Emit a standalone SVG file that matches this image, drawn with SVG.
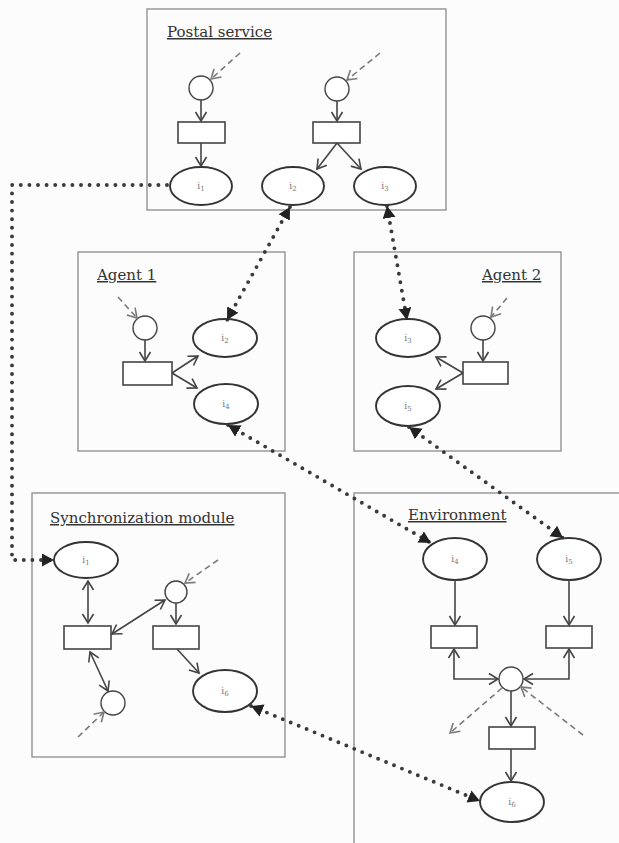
<svg xmlns="http://www.w3.org/2000/svg" width="619" height="843" viewBox="0 0 619 843">
  <style>
    .module { fill: none; stroke: #8a8a8a; stroke-width: 1.3; }
    .title { font-family: "DejaVu Serif", "Liberation Serif", serif; font-size: 15px; fill: #333; text-decoration: underline; }
    .place { fill: #fff; stroke: #333; stroke-width: 1.9; }
    .cond { fill: #fff; stroke: #444; stroke-width: 1.4; }
    .trans { fill: #fff; stroke: #444; stroke-width: 1.6; }
    .lbl { font-family: "DejaVu Serif", "Liberation Serif", serif; font-size: 9px; fill: #777; text-anchor: middle; }
    .sub { font-size: 7px; }
    .arc { fill: none; stroke: #444; stroke-width: 1.6; marker-end: url(#open); }
    .bi { fill: none; stroke: #444; stroke-width: 1.6; marker-start: url(#open); marker-end: url(#open); }
    .ext { fill: none; stroke: #7a7a7a; stroke-width: 1.6; stroke-dasharray: 6 4; marker-end: url(#openLight); }
    .link { fill: none; stroke: #3a3a3a; stroke-width: 3.9; stroke-linecap: round; stroke-dasharray: 0 8.6; }
    .link2 { marker-start: url(#tri); marker-end: url(#tri); }
    .link1 { marker-end: url(#tri); }
  </style>
  <defs>
    <marker id="open" markerUnits="userSpaceOnUse" markerWidth="14" markerHeight="14" refX="10" refY="7" orient="auto-start-reverse">
      <path d="M1,1.5 L10,7 L1,12.5" fill="none" stroke="#444" stroke-width="1.6"/>
    </marker>
    <marker id="openLight" markerUnits="userSpaceOnUse" markerWidth="14" markerHeight="14" refX="10" refY="7" orient="auto-start-reverse">
      <path d="M1,1.5 L10,7 L1,12.5" fill="none" stroke="#7a7a7a" stroke-width="1.6"/>
    </marker>
    <marker id="tri" markerUnits="userSpaceOnUse" markerWidth="16" markerHeight="16" refX="12" refY="6.5" orient="auto-start-reverse">
      <path d="M0,0 L12,6.5 L0,13 Z" fill="#222"/>
    </marker>
  </defs>

  <rect width="619" height="843" fill="#fcfcfc"/>

  <!-- Postal service -->
  <g id="postal-service">
    <rect class="module" x="147" y="9" width="299" height="201"/>
    <text class="title" x="167" y="37">Postal service</text>
    <circle class="cond" cx="201" cy="88" r="12"/>
    <rect class="trans" x="178" y="122" width="47" height="21"/>
    <circle class="cond" cx="337" cy="89" r="12"/>
    <rect class="trans" x="313" y="122" width="47" height="21"/>
    <g id="postal-i1"><ellipse class="place" cx="201" cy="186" rx="31" ry="19"/><text class="lbl" x="201" y="189">i<tspan class="sub" dy="2">1</tspan></text></g>
    <g id="postal-i2"><ellipse class="place" cx="293" cy="186" rx="31" ry="19"/><text class="lbl" x="293" y="189">i<tspan class="sub" dy="2">2</tspan></text></g>
    <g id="postal-i3"><ellipse class="place" cx="385" cy="186" rx="31" ry="19"/><text class="lbl" x="385" y="189">i<tspan class="sub" dy="2">3</tspan></text></g>
    <path class="ext" d="M240,53 L211,79"/>
    <path class="ext" d="M380,53 L347,80"/>
    <path class="arc" d="M201,100 V121"/>
    <path class="arc" d="M201,143 V166"/>
    <path class="arc" d="M337,101 V121"/>
    <path class="arc" d="M337,143 L317,169"/>
    <path class="arc" d="M337,143 L361,169"/>
  </g>

  <!-- Agent 1 -->
  <g id="agent-1">
    <rect class="module" x="78" y="252" width="207" height="199"/>
    <text class="title" x="97" y="280">Agent 1</text>
    <circle class="cond" cx="145" cy="328" r="12"/>
    <rect class="trans" x="123" y="362" width="49" height="23"/>
    <g id="agent1-i2"><ellipse class="place" cx="225" cy="338" rx="32" ry="19"/><text class="lbl" x="225" y="341">i<tspan class="sub" dy="2">2</tspan></text></g>
    <g id="agent1-i4"><ellipse class="place" cx="226" cy="404" rx="32" ry="20"/><text class="lbl" x="226" y="407">i<tspan class="sub" dy="2">4</tspan></text></g>
    <path class="ext" d="M118,297 L137,318"/>
    <path class="arc" d="M145,340 V361"/>
    <path class="arc" d="M172,373 L198,356"/>
    <path class="arc" d="M172,373 L197,388"/>
  </g>

  <!-- Agent 2 -->
  <g id="agent-2">
    <rect class="module" x="354" y="252" width="207" height="199"/>
    <text class="title" x="482" y="280">Agent 2</text>
    <circle class="cond" cx="483" cy="328" r="12"/>
    <rect class="trans" x="463" y="362" width="45" height="22"/>
    <g id="agent2-i3"><ellipse class="place" cx="408" cy="338" rx="32" ry="19"/><text class="lbl" x="408" y="341">i<tspan class="sub" dy="2">3</tspan></text></g>
    <g id="agent2-i5"><ellipse class="place" cx="408" cy="406" rx="32" ry="20"/><text class="lbl" x="408" y="409">i<tspan class="sub" dy="2">5</tspan></text></g>
    <path class="ext" d="M507,298 L491,317"/>
    <path class="arc" d="M483,340 V361"/>
    <path class="arc" d="M463,373 L436,357"/>
    <path class="arc" d="M463,373 L436,389"/>
  </g>

  <!-- Synchronization module -->
  <g id="synchronization-module">
    <rect class="module" x="32" y="493" width="253" height="264"/>
    <text class="title" x="50" y="523">Synchronization module</text>
    <g id="sync-i1"><ellipse class="place" cx="86" cy="560" rx="32" ry="18"/><text class="lbl" x="86" y="563">i<tspan class="sub" dy="2">1</tspan></text></g>
    <rect class="trans" x="64" y="626" width="47" height="23"/>
    <circle class="cond" cx="176" cy="592" r="11"/>
    <rect class="trans" x="153" y="626" width="46" height="23"/>
    <circle class="cond" cx="113" cy="703" r="12"/>
    <g id="sync-i6"><ellipse class="place" cx="225" cy="691" rx="32" ry="21"/><text class="lbl" x="225" y="694">i<tspan class="sub" dy="2">6</tspan></text></g>
    <path class="bi" d="M88,581 V623"/>
    <path class="ext" d="M218,560 L185,583"/>
    <path class="bi" d="M165,600 L112,634"/>
    <path class="arc" d="M176,603 V624"/>
    <path class="arc" d="M177,649 L199,673"/>
    <path class="bi" d="M90,652 L108,691"/>
    <path class="ext" d="M78,737 L104,712"/>
  </g>

  <!-- Environment -->
  <g id="environment">
    <rect class="module" x="354" y="493" width="300" height="400"/>
    <text class="title" x="408" y="520">Environment</text>
    <g id="env-i4"><ellipse class="place" cx="455" cy="559" rx="32" ry="21"/><text class="lbl" x="455" y="562">i<tspan class="sub" dy="2">4</tspan></text></g>
    <g id="env-i5"><ellipse class="place" cx="569" cy="559" rx="32" ry="21"/><text class="lbl" x="569" y="562">i<tspan class="sub" dy="2">5</tspan></text></g>
    <rect class="trans" x="431" y="626" width="46" height="22"/>
    <rect class="trans" x="546" y="626" width="46" height="22"/>
    <circle class="cond" cx="511" cy="679" r="12"/>
    <rect class="trans" x="489" y="727" width="46" height="22"/>
    <g id="env-i6"><ellipse class="place" cx="512" cy="802" rx="32" ry="20"/><text class="lbl" x="512" y="805">i<tspan class="sub" dy="2">6</tspan></text></g>
    <path class="arc" d="M455,580 V625"/>
    <path class="arc" d="M569,580 V625"/>
    <path class="bi" d="M454,649 V679 H498"/>
    <path class="bi" d="M569,649 V679 H524"/>
    <path class="arc" d="M511,691 V726"/>
    <path class="arc" d="M511,749 V781"/>
    <path class="ext" d="M502,688 L450,733"/>
    <path class="ext" d="M583,735 L521,687"/>
  </g>

  <!-- shared places linked across modules -->
  <g id="connectors">
    <path class="link link1" d="M167,185 H12 V560 H54"/>
    <path class="link link2" d="M290,207 L227,320"/>
    <path class="link link2" d="M387,206 L407,320"/>
    <path class="link link2" d="M228,425 L431,543"/>
    <path class="link link2" d="M409,427 L563,538"/>
    <path class="link link2" d="M251,706 L480,801"/>
  </g>
</svg>
